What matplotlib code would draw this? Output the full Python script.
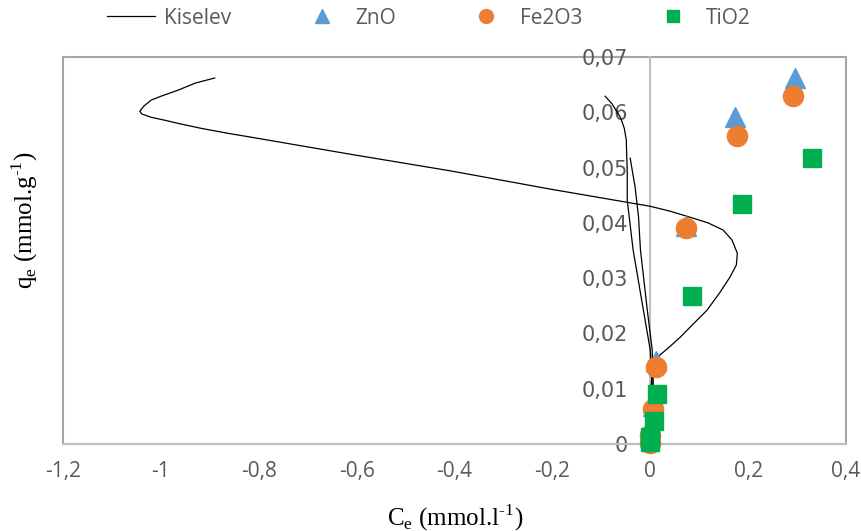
import matplotlib
matplotlib.use('Agg')
import matplotlib.pyplot as plt
from matplotlib.lines import Line2D
from matplotlib.patches import Rectangle

# ---------------- data ----------------
xticks = [-1.2, -1.0, -0.8, -0.6, -0.4, -0.2, 0.0, 0.2, 0.4]
xtick_labels = ['-1,2', '-1', '-0,8', '-0,6', '-0,4', '-0,2', '0', '0,2', '0,4']
yticks = [0.0, 0.01, 0.02, 0.03, 0.04, 0.05, 0.06, 0.07]
ytick_labels = ['0', '0,01', '0,02', '0,03', '0,04', '0,05', '0,06', '0,07']

zno_x = [0.296, 0.173, 0.073, 0.012, 0.006, 0.0]
zno_y = [0.0662, 0.0591, 0.0394, 0.0150, 0.0068, 0.0015]
fe_x = [0.292, 0.178, 0.073, 0.012, 0.006, 0.0, 0.0]
fe_y = [0.0629, 0.0557, 0.0391, 0.0139, 0.0063, 0.0016, 0.0002]
ti_x = [0.331, 0.188, 0.086, 0.014, 0.008, 0.0, 0.0]
ti_y = [0.0517, 0.0434, 0.0268, 0.0090, 0.0042, 0.0013, 0.0003]

# Kiselev model curves
kis_a_x = [-0.890, -0.929, -0.965, -1.000, -1.020, -1.035, -1.043, -1.039, -1.020,
           -0.994, -0.965, -0.918, -0.863, -0.816, -0.612, -0.408, -0.204, 0.0,
           0.041, 0.082, 0.118, 0.149, 0.167, 0.178, 0.176, 0.163, 0.143, 0.116,
           0.090, 0.061, 0.041, 0.020, 0.004, 0.002]
kis_a_y = [0.0662, 0.0653, 0.0640, 0.0629, 0.0622, 0.0611, 0.0602, 0.0597, 0.0591,
           0.0586, 0.0580, 0.0571, 0.0562, 0.0555, 0.0524, 0.0494, 0.0461, 0.0430,
           0.0421, 0.0410, 0.0400, 0.0387, 0.0369, 0.0345, 0.0324, 0.0302, 0.0275, 0.0242,
           0.0219, 0.0193, 0.0177, 0.0161, 0.0143, 0.0100]
kis_b_x = [-0.092, -0.078, -0.061, -0.053, -0.049, -0.047, -0.047, -0.035, -0.014,
           0.0, 0.004, 0.004]
kis_b_y = [0.0629, 0.0615, 0.0591, 0.0571, 0.0550, 0.0490, 0.0441, 0.0351, 0.0242,
           0.0170, 0.0116, 0.0080]
kis_c_x = [-0.041, -0.031, -0.024, -0.020, -0.006, 0.004, 0.006, 0.006]
kis_c_y = [0.0517, 0.0465, 0.0411, 0.0351, 0.0242, 0.0170, 0.0116, 0.0080]

# ---------------- style ----------------
ZNO_C = '#5B9BD5'
FE_C = '#ED7D31'
TI_C = '#00B050'
TXT_C = '#595959'
FRAME_C = '#A6A6A6'
ZERO_C = '#BFBFBF'
SANS = ['Open Sans', 'DejaVu Sans']
SERIF = ['Liberation Serif', 'DejaVu Serif']

plt.rcParams['mathtext.fontset'] = 'custom'
plt.rcParams['mathtext.rm'] = 'Liberation Serif'

fig = plt.figure(figsize=(8.61, 5.31), dpi=100)
W, H = 861, 531
ax = fig.add_axes([63 / W, (H - 444) / H, (846 - 63) / W, (444 - 57) / H])

for kx, ky in [(kis_a_x, kis_a_y), (kis_b_x, kis_b_y), (kis_c_x, kis_c_y)]:
    ax.plot(kx, ky, color='black', lw=0.9, zorder=3, solid_joinstyle='round')

ax.plot(zno_x, zno_y, ls='none', marker='^', ms=14, color=ZNO_C, mec=ZNO_C, clip_on=False, zorder=4)
ax.plot(fe_x, fe_y, ls='none', marker='o', ms=14.5, color=FE_C, mec=FE_C, clip_on=False, zorder=5)
ax.plot(ti_x, ti_y, ls='none', marker='s', ms=13.5, color=TI_C, mec=TI_C, clip_on=False, zorder=6)

ax.set_xlim(-1.2, 0.4)
ax.set_ylim(0, 0.07)
ax.set_xticks(xticks)
ax.set_xticklabels(xtick_labels)
ax.set_yticks(yticks)
ax.set_yticklabels(ytick_labels)
for lab in ax.get_xticklabels() + ax.get_yticklabels():
    lab.set_fontfamily(SANS)
ax.tick_params(axis='both', length=0, labelsize=15, labelcolor=TXT_C)
ax.tick_params(axis='x', pad=12)
ax.tick_params(axis='y', pad=16)

for s in ['top', 'right']:
    ax.spines[s].set_visible(False)
ax.spines['left'].set_position(('data', 0))
ax.spines['left'].set_color(ZERO_C)
ax.spines['left'].set_linewidth(1.5)
ax.spines['bottom'].set_color(ZERO_C)
ax.spines['bottom'].set_linewidth(1.5)
ax.add_patch(Rectangle((0, 0), 1, 1, transform=ax.transAxes, fill=False,
                       ec=FRAME_C, lw=1.5, clip_on=False, zorder=1))

ax.set_xlabel('C$_{\\mathregular{e}}$ (mmol.l$^{\\mathregular{\u2010}\\mathregular{1}}$)',
              fontfamily=SERIF, fontsize=18, color='black')
ax.set_ylabel('q$_{\\mathregular{e}}$ (mmol.g$^{\\mathregular{\u2010}\\mathregular{1}}$)',
              fontfamily=SERIF, fontsize=18, color='black')
ax.xaxis.set_label_coords((455 - 63) / 783, (444 - 502) / 387)
ax.yaxis.set_label_coords((40 - 63) / 783, (444 - 220) / 387)

handles = [
    Line2D([], [], color='black', lw=0.9),
    Line2D([], [], ls='none', marker='^', ms=10, color=ZNO_C),
    Line2D([], [], ls='none', marker='o', ms=10, color=FE_C),
    Line2D([], [], ls='none', marker='s', ms=9, color=TI_C),
]
labels = ['Kiselev', 'ZnO', 'Fe2O3', 'TiO2']
leg = fig.legend(handles, labels, loc='center left', bbox_to_anchor=(88 / W, 1 - 18 / H),
                 ncol=4, frameon=False, handlelength=2.3, handletextpad=0.45,
                 columnspacing=3.2, prop={'family': SANS, 'size': 15})
for t in leg.get_texts():
    t.set_color(TXT_C)

fig.savefig('out.png', dpi=100)
